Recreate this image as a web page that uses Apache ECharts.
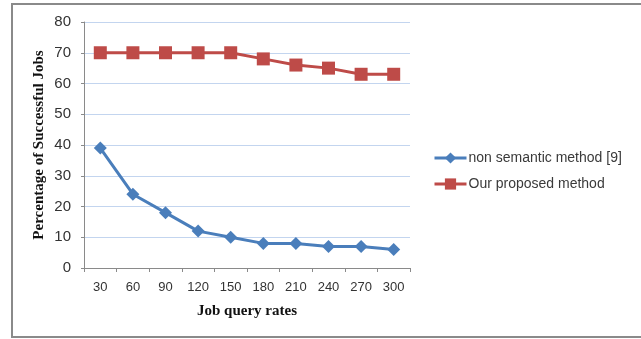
<!DOCTYPE html>
<html>
<head>
<meta charset="utf-8">
<script src="https://cdn.jsdelivr.net/npm/echarts@6/dist/echarts.min.js"></script>
<style>
html,body{margin:0;padding:0;background:#fff;}
#chart{width:641px;height:339px;}
</style>
</head>
<body>
<div id="chart"></div>
<script>
var categories = ['30','60','90','120','150','180','210','240','270','300'];
var nonSemantic = [39, 24, 18, 12, 10, 8, 8, 7, 7, 6];
var proposed = [70, 70, 70, 70, 70, 68, 66, 65, 63, 63];
var seriesNames = ['non semantic method [9]', 'Our proposed method'];
var xTitle = 'Job query rates';
var yTitle = 'Percentage of Successful Jobs';

var chart = echarts.init(document.getElementById('chart'), null, {renderer:'canvas'});
chart.setOption({
  animation: false,
  backgroundColor: '#fff',
  graphic: [{
    type: 'rect',
    shape: {x: 12, y: 4, width: 640, height: 333},
    style: {fill: 'none', stroke: '#8a8a8a', lineWidth: 2},
    silent: true
  }],
  grid: {left: 84, top: 22, right: 231, bottom: 71, containLabel: false},
  legend: {
    orient: 'vertical',
    left: 433,
    top: 151,
    padding: 0,
    itemWidth: 32,
    itemHeight: 14,
    itemGap: 12,
    lineStyle: {width: 3},
    textStyle: {fontFamily: 'Liberation Sans', fontSize: 14, lineHeight: 14, color: '#3a3a3a', padding: [0,0,0,-3]},
    data: seriesNames
  },
  xAxis: {
    type: 'category',
    data: categories,
    boundaryGap: true,
    name: xTitle,
    nameLocation: 'middle',
    nameGap: 36,
    nameTextStyle: {fontFamily: 'Liberation Serif', fontWeight: 'bold', fontSize: 15, color: '#111'},
    axisLine: {lineStyle: {color: '#8a8a8a', width: 1}},
    axisTick: {show: true, length: 4, lineStyle: {color: '#8a8a8a'}},
    axisLabel: {fontFamily: 'Liberation Sans', fontSize: 13, color: '#333', margin: 13, interval: 0},
    splitLine: {show: false}
  },
  yAxis: {
    type: 'value',
    min: 0,
    max: 80,
    interval: 10,
    name: yTitle,
    nameLocation: 'middle',
    nameGap: 37,
    nameMoveOverlap: false,
    nameTextStyle: {fontFamily: 'Liberation Serif', fontWeight: 'bold', fontSize: 15, color: '#111'},
    axisLine: {show: true, lineStyle: {color: '#8a8a8a', width: 1}},
    axisTick: {show: true, length: 3, lineStyle: {color: '#8a8a8a'}},
    axisLabel: {fontFamily: 'Liberation Sans', fontSize: 15, color: '#333', margin: 13},
    splitLine: {show: true, lineStyle: {color: '#c3d5ef', width: 1}}
  },
  series: [{
    name: seriesNames[0],
    type: 'line',
    data: nonSemantic,
    symbol: 'diamond',
    symbolSize: 13,
    lineStyle: {color: '#4a7ebb', width: 3},
    itemStyle: {color: '#4a7ebb'}
  }, {
    name: seriesNames[1],
    type: 'line',
    data: proposed,
    symbol: 'rect',
    symbolSize: 13,
    lineStyle: {color: '#be4b48', width: 3},
    itemStyle: {color: '#be4b48'}
  }]
});
</script>
</body>
</html>
